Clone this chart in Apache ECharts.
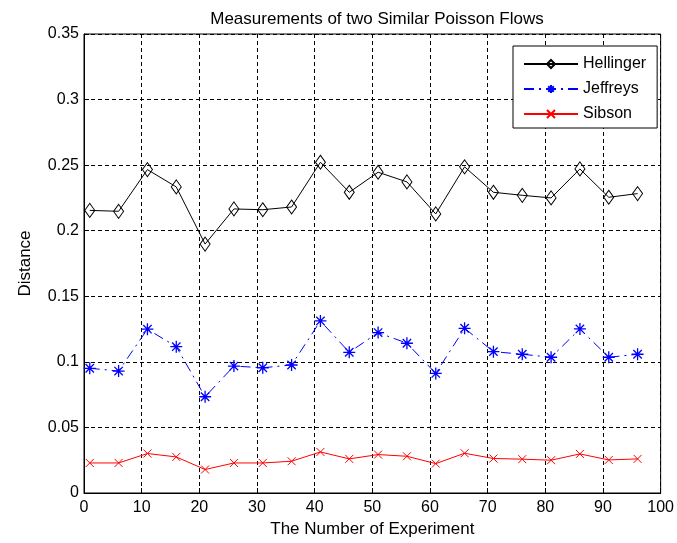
<!DOCTYPE html>
<html>
<head>
<meta charset="utf-8">
<script src="https://cdn.jsdelivr.net/npm/echarts@6/dist/echarts.min.js"></script>
<style>html,body{margin:0;padding:0;background:#fff;}#c{width:677px;height:543px;}</style>
</head>
<body>
<div id="c"></div>
<script>
var experiments = [1, 6, 11, 16, 21, 26, 31, 36, 41, 46, 51, 56, 61, 66, 71, 76, 81, 86, 91, 96];
var hellinger = [0.2155, 0.2148, 0.2466, 0.2334, 0.1898, 0.2166, 0.2160, 0.2181, 0.2522, 0.2293,
                 0.2446, 0.2372, 0.2128, 0.2487, 0.2293, 0.2270, 0.2250, 0.2471, 0.2255, 0.2283];
var jeffreys = [0.0951, 0.0930, 0.1249, 0.1116, 0.0734, 0.0968, 0.0955, 0.0976, 0.1312, 0.1073,
                0.1223, 0.1142, 0.0912, 0.1256, 0.1078, 0.1058, 0.1035, 0.1251, 0.1035, 0.1058];
var sibson = [0.0229, 0.0229, 0.0301, 0.0275, 0.0179, 0.0229, 0.0229, 0.0242, 0.0313, 0.0260,
              0.0293, 0.0280, 0.0224, 0.0303, 0.0263, 0.0258, 0.0250, 0.0298, 0.0252, 0.0260];
var seriesNames = ['Hellinger', 'Jeffreys', 'Sibson'];

function pairs(vals) { return experiments.map(function (x, i) { return [x, vals[i]]; }); }

var FONT = 'Liberation Sans, Arial, sans-serif';
var chart = echarts.init(document.getElementById('c'), null, { renderer: 'canvas' });
var gridDash = { color: '#000', width: 1, type: [4, 3] };
chart.setOption({
  animation: false,
  backgroundColor: '#fff',
  textStyle: { fontFamily: FONT, color: '#000' },
  title: {
    text: 'Measurements of two Similar Poisson Flows',
    left: 372, top: 6, textAlign: 'center',
    textStyle: { fontFamily: FONT, fontSize: 17, fontWeight: 'normal', color: '#000' }
  },
  grid: { left: 84, right: 16, top: 34, bottom: 50, show: true, borderColor: '#000', borderWidth: 1, backgroundColor: 'transparent' },
  legend: {
    orient: 'vertical', left: 513, top: 46,
    backgroundColor: '#fff', borderColor: '#000', borderWidth: 1,
    padding: [10, 11, 6, 10],
    itemWidth: 54, itemHeight: 10, itemGap: 9,
    textStyle: { fontFamily: FONT, fontSize: 16, color: '#000' },
    data: seriesNames
  },
  xAxis: {
    type: 'value', min: 0, max: 100, interval: 10,
    name: 'The Number of Experiment', nameLocation: 'middle', nameGap: 27,
    nameTextStyle: { fontFamily: FONT, fontSize: 17, color: '#000' },
    axisLine: { show: true, lineStyle: { color: '#000' } },
    axisTick: { show: true, inside: true, length: 5, lineStyle: { color: '#000' } },
    axisLabel: { fontFamily: FONT, fontSize: 16, color: '#000', margin: 7 },
    splitLine: { show: true, lineStyle: gridDash }
  },
  yAxis: {
    type: 'value', min: 0, max: 0.35, interval: 0.05,
    name: 'Distance', nameLocation: 'middle', nameGap: 50,
    nameTextStyle: { fontFamily: FONT, fontSize: 17, color: '#000' },
    axisLine: { show: true, lineStyle: { color: '#000' } },
    axisTick: { show: true, inside: true, length: 5, lineStyle: { color: '#000' } },
    axisLabel: { fontFamily: FONT, fontSize: 16, color: '#000', margin: 5,
      formatter: function (v) { return String(Math.round(v * 100) / 100); } },
    splitLine: { show: true, lineStyle: gridDash }
  },
  series: [
    {
      name: 'Hellinger', type: 'line', data: pairs(hellinger),
      symbol: 'diamond', symbolSize: [10, 14], showAllSymbol: true,
      lineStyle: { color: '#000', width: 1 },
      itemStyle: { color: 'rgba(255,255,255,0)', borderColor: '#000', borderWidth: 1 },
      z: 3
    },
    {
      name: 'Jeffreys', type: 'line', data: pairs(jeffreys),
      symbol: 'path://M0,5L10,5M5,0L5,10M1.5,1.5L8.5,8.5M8.5,1.5L1.5,8.5', symbolSize: 12,
      lineStyle: { color: '#0000ff', width: 1, type: [10, 5, 2, 5] },
      itemStyle: { color: 'rgba(0,0,255,0)', borderColor: '#0000ff', borderWidth: 1.3 },
      z: 3
    },
    {
      name: 'Sibson', type: 'line', data: pairs(sibson),
      symbol: 'path://M0,0L10,10M10,0L0,10', symbolSize: 8,
      lineStyle: { color: '#ff0000', width: 1 },
      itemStyle: { color: 'rgba(255,0,0,0)', borderColor: '#ff0000', borderWidth: 1 },
      z: 3
    }
  ]
});
</script>
</body>
</html>
